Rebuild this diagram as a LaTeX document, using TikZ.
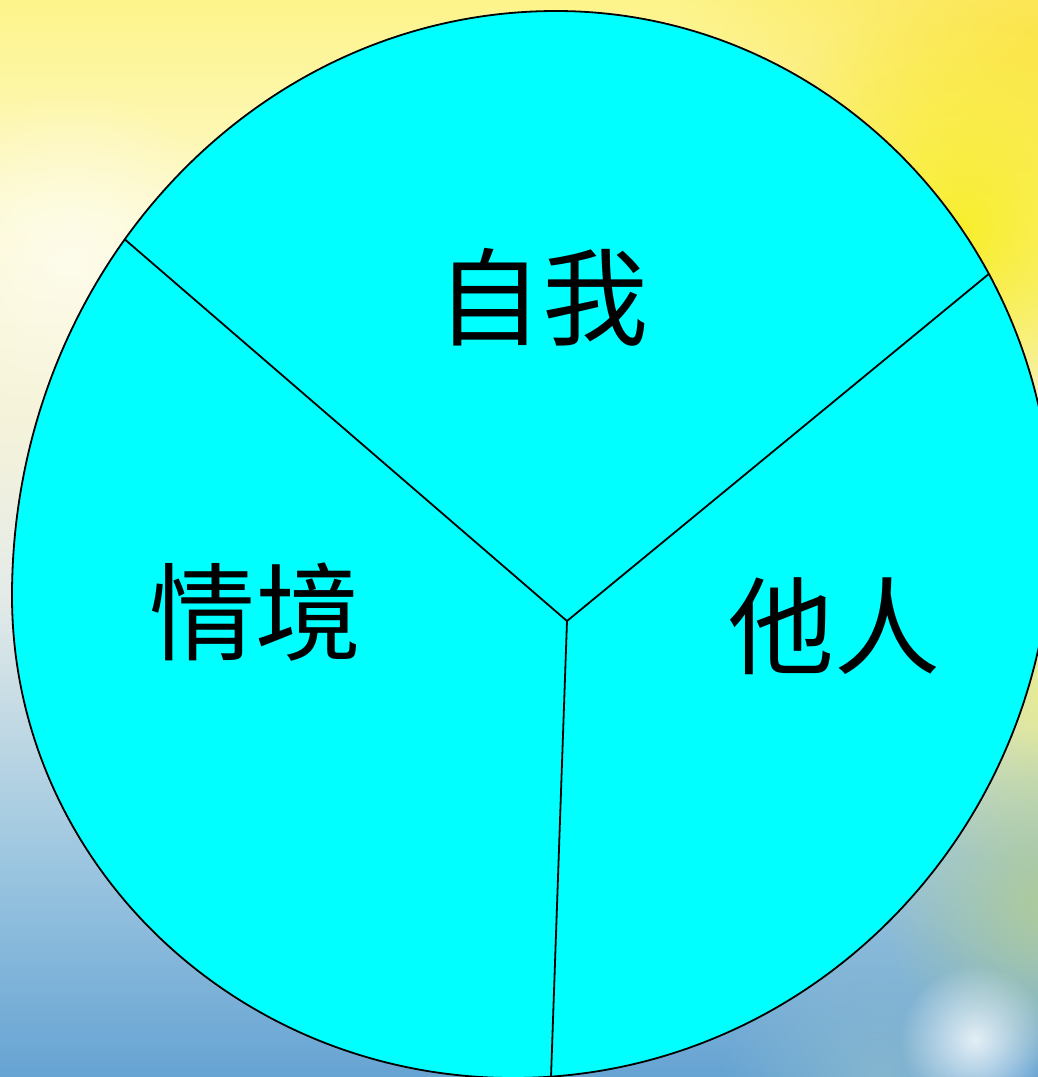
\documentclass[tikz,border=0pt]{standalone}
\usepackage{fontspec}
\newfontfamily\cjk{Noto Sans CJK SC}
\usetikzlibrary{fadings,calc}
\definecolor{bgA}{HTML}{66A3D3}
\definecolor{bgB}{HTML}{9CC6E0}
\definecolor{bgC}{HTML}{E4EBE8}
\definecolor{bgD}{HTML}{F4F2DA}
\definecolor{bgE}{HTML}{FDF9CC}
\definecolor{bgF}{HTML}{FDF48A}
\definecolor{sunY}{HTML}{F8EE2C}
\definecolor{sunO}{HTML}{FCE550}
\definecolor{greenish}{HTML}{AFCB98}
\definecolor{paleY}{HTML}{E9EC8C}
\definecolor{greyblue}{HTML}{8DBBCF}
\definecolor{piefill}{HTML}{00FFFF}
\pgfdeclareverticalshading{bgshade}{100bp}{color(0bp)=(bgA); color(25bp)=(bgA); color(35bp)=(bgB); color(47.5bp)=(bgC); color(55bp)=(bgD); color(65bp)=(bgE); color(75bp)=(bgF); color(100bp)=(bgF)}
\tikzfading[name=softdot, inner color=transparent!0, outer color=transparent!100]
\tikzset{
  outline/.style={draw=black, line width=1.8pt},
  divider/.style={draw=black, line width=1.8pt},
  lbl/.style={font=\cjk\fontsize{106}{110}\selectfont, inner sep=0pt, text=black}
}
\def\pieshape{(556,11) arc[start angle=-90, end angle=0, x radius=496, y radius=514]
  arc[start angle=0, end angle=90, x radius=539, y radius=553]
  arc[start angle=90, end angle=180, x radius=501, y radius=482]
  arc[start angle=180, end angle=270, x radius=544, y radius=585] -- cycle}
\begin{document}
\begin{tikzpicture}[x=1pt,y=-1pt]
\useasboundingbox (0,0) rectangle (1038,1077);
% background
\shade[shading=bgshade] (0,0) rectangle (1038,1077);
\fill[sunO, path fading=softdot] (1038,40) circle (360);
\fill[sunY, path fading=softdot] (960,230) circle (230);
\fill[white, opacity=0.6, path fading=softdot] (70,260) circle (170);
\fill[paleY, path fading=softdot] (1060,690) circle (190);
\fill[greenish, path fading=softdot] (1050,900) circle (170);
\fill[greyblue, opacity=0.8, path fading=softdot] (880,1077) circle (160);
\fill[white, opacity=0.8, path fading=softdot] (975,1040) circle (75);
\clip (0,0) rectangle (1038,1077);
\fill[piefill] \pieshape;
\coordinate (c) at (567,621);
\coordinate (pUL) at (129,243);
\coordinate (pUR) at (990,273);
\coordinate (pB) at (551,1077);
\begin{scope}
\clip \pieshape;
\draw[divider] (c) -- ($(c)!1.06!(pUL)$);
\draw[divider] (c) -- ($(c)!1.06!(pUR)$);
\draw[divider] (c) -- ($(c)!1.06!(pB)$);
\end{scope}
\draw[outline] \pieshape;
\node[lbl] (self) at (542,297) {自我};
\node[lbl] (situ) at (255,612) {情境};
\node[lbl] (other) at (834,626) {他人};
\end{tikzpicture}
\end{document}
